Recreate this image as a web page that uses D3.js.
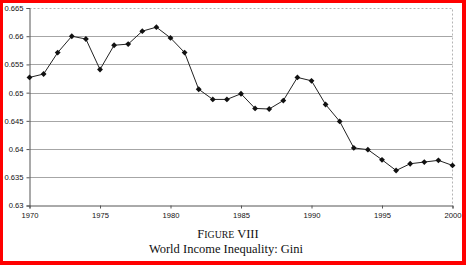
<!DOCTYPE html>
<html>
<head>
<meta charset="utf-8">
<script src="https://cdn.jsdelivr.net/npm/d3@7"></script>
<style>
  html, body { margin: 0; padding: 0; background: #fff; }
  svg { display: block; }
</style>
</head>
<body>
<svg id="chart"></svg>
<script>
// data
const years = [1970, 1971, 1972, 1973, 1974, 1975, 1976, 1977, 1978, 1979,
    1980, 1981, 1982, 1983, 1984, 1985, 1986, 1987, 1988, 1989,
    1990, 1991, 1992, 1993, 1994, 1995, 1996, 1997, 1998, 1999, 2000];
const gini = [0.6527, 0.6533, 0.6571, 0.6600, 0.6595, 0.6541, 0.6584, 0.6586, 0.6609, 0.6616,
    0.6597, 0.6571, 0.6506, 0.6488, 0.6488, 0.6498, 0.6472, 0.6471, 0.6486, 0.6527,
    0.6521, 0.6479, 0.6449, 0.6402, 0.6399, 0.6381, 0.6362, 0.6374, 0.6377, 0.6380, 0.6371];
const yTicks = [0.63, 0.635, 0.64, 0.645, 0.65, 0.655, 0.66, 0.665];
const xTicks = [1970, 1975, 1980, 1985, 1990, 1995, 2000];

// canvas
const canvWidth = 466;
const canvHeight = 265;
const margin = { top: 8, right: 13.5, bottom: 59.5, left: 29.5 };
const width = canvWidth - margin.left - margin.right;
const height = canvHeight - margin.top - margin.bottom;

const svg = d3.select("#chart")
    .attr("width", canvWidth)
    .attr("height", canvHeight);

const g = svg.append("g")
    .attr("transform", "translate(" + margin.left + "," + margin.top + ")");

// scales
const x = d3.scaleLinear().domain([1970, 2000]).range([0, width]);
const y = d3.scaleLinear().domain([0.63, 0.665]).range([height, 0]);

// horizontal gridlines
g.selectAll(".grid")
    .data(yTicks.filter(function (d) { return d > 0.63 && d < 0.665; }))
    .enter().append("line")
    .attr("x1", 0)
    .attr("x2", width)
    .attr("y1", function (d) { return Math.round(y(d)) + 0.5; })
    .attr("y2", function (d) { return Math.round(y(d)) + 0.5; })
    .attr("stroke", "#a6a6a6")
    .attr("stroke-width", 1);

// dashed frame on top and right
g.append("path")
    .attr("d", "M0," + 0.5 + "H" + width + "V" + height)
    .attr("fill", "none")
    .attr("stroke", "#b4b4b4")
    .attr("stroke-dasharray", "2,2")
    .attr("stroke-width", 1);

// y axis
const yAxis = g.append("g")
    .call(d3.axisLeft(y).tickValues(yTicks).tickSize(3).tickPadding(3)
        .tickFormat(function (d) { return String(+d.toFixed(3)); }));
yAxis.select(".domain").attr("stroke", "#555");
yAxis.selectAll(".tick line").attr("stroke", "#555");
yAxis.selectAll("text")
    .attr("font-family", "Liberation Sans, Arial, sans-serif")
    .attr("font-size", "7.6px")
    .attr("fill", "#111");

// x axis
const xAxis = g.append("g")
    .attr("transform", "translate(0," + height + ")")
    .call(d3.axisBottom(x).tickValues(xTicks).tickSize(3).tickPadding(4)
        .tickFormat(d3.format("d")));
xAxis.select(".domain").attr("stroke", "#555");
xAxis.selectAll(".tick line").attr("stroke", "#555");
xAxis.selectAll("text")
    .attr("font-family", "Liberation Sans, Arial, sans-serif")
    .attr("font-size", "7.6px")
    .attr("fill", "#111");

// line
const line = d3.line()
    .x(function (d, i) { return x(years[i]); })
    .y(function (d) { return y(d); });

g.append("path")
    .datum(gini)
    .attr("d", line)
    .attr("fill", "none")
    .attr("stroke", "#222")
    .attr("stroke-width", 1);

// diamond markers (square turned 45 degrees, like the spreadsheet marker)
g.selectAll(".marker")
    .data(gini)
    .enter().append("path")
    .attr("class", "marker")
    .attr("transform", function (d, i) {
        return "translate(" + x(years[i]) + "," + y(d) + ") rotate(45)";
    })
    .attr("d", d3.symbol().type(d3.symbolSquare).size(17))
    .attr("fill", "#111");

// caption
const cap = svg.append("text")
    .attr("x", 228)
    .attr("y", 238)
    .attr("text-anchor", "middle")
    .attr("font-family", "Liberation Serif, Times New Roman, serif")
    .attr("font-size", "12.5px")
    .attr("fill", "#111");
cap.append("tspan").text("F");
cap.append("tspan").attr("font-size", "9.8px").text("IGURE");
cap.append("tspan").text(" VIII");

svg.append("text")
    .attr("x", 226)
    .attr("y", 253)
    .attr("text-anchor", "middle")
    .attr("font-family", "Liberation Serif, Times New Roman, serif")
    .attr("font-size", "12.5px")
    .attr("fill", "#111")
    .text("World Income Inequality: Gini");

// red frame round the picture
svg.append("rect").attr("x", 0).attr("y", 0).attr("width", canvWidth).attr("height", 3).attr("fill", "#f00");
svg.append("rect").attr("x", 0).attr("y", canvHeight - 4).attr("width", canvWidth).attr("height", 4).attr("fill", "#f00");
svg.append("rect").attr("x", 0).attr("y", 0).attr("width", 3).attr("height", canvHeight).attr("fill", "#f00");
svg.append("rect").attr("x", canvWidth - 4).attr("y", 0).attr("width", 4).attr("height", canvHeight).attr("fill", "#f00");
</script>
</body>
</html>
